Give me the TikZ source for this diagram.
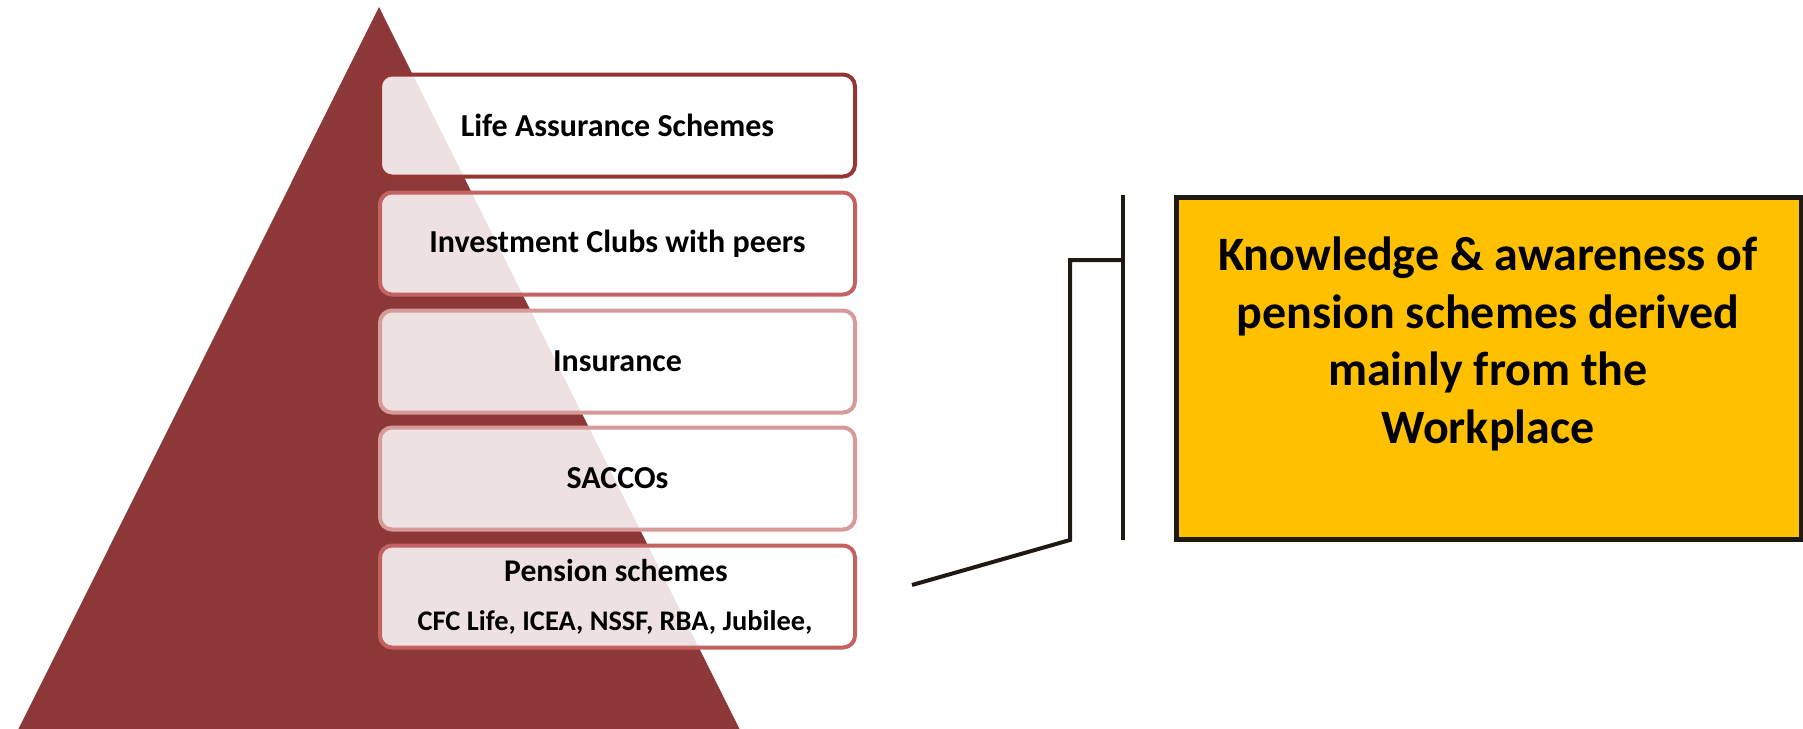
\documentclass[tikz,border=0pt]{standalone}
\usepackage{fontspec}
\setmainfont{Carlito}
\definecolor{pyr}{HTML}{8C3838}
\definecolor{tierA}{HTML}{943634}
\definecolor{tierB}{HTML}{C46262}
\definecolor{tierC}{HTML}{D69A98}
\definecolor{yel}{HTML}{FFC000}
\definecolor{lineblk}{HTML}{1E1A12}
\begin{document}
\begin{tikzpicture}[x=0.5pt,y=-0.5pt,
  tier/.style={draw, line width=2pt, rounded corners=6pt, fill=white, fill opacity=0.85, text opacity=1,
    minimum width=237.5pt, minimum height=51pt, inner sep=0pt, text=black,
    font=\bfseries\fontsize{16}{19}\selectfont},
  conn/.style={draw=lineblk, line width=2pt},
  lbl/.style={inner sep=0pt, text=black, font=\bfseries\fontsize{15.8}{19}\selectfont},
  sublbl/.style={inner sep=0pt, text=black, font=\bfseries\fontsize{14.2}{17}\selectfont},
]
\useasboundingbox (0,0) rectangle (1803,728);
\clip (0,0) rectangle (1803,728);
\fill[white] (0,0) rectangle (1803,728);
% pyramid
\fill[pyr] (379,7) -- (13,740) -- (745,740) -- cycle;
% tiers
\node[tier, draw=tierA] (t1) at (617.5,125.5) {Life Assurance Schemes};
\node[tier, draw=tierB] (t2) at (617.5,243.5) {Investment Clubs with peers};
\node[tier, draw=tierC] (t3) at (617.5,361.5) {Insurance};
\node[tier, draw=tierC] (t4) at (617.5,478.5) {SACCOs};
\node[tier, draw=tierB] (t5) at (617.5,596.5) {};
\node[lbl] (t5a) at (616,571) {Pension schemes};
\node[sublbl] (t5b) at (615,622) {CFC Life, ICEA, NSSF, RBA, Jubilee,};
% callout
\node[draw=lineblk, line width=2.5pt, fill=yel, minimum width=312.5pt, minimum height=171pt, inner sep=0pt] (kbox) at (1488.5,368) {};
\node[align=center, inner sep=0pt, text=black, font=\bfseries\fontsize{24}{28.75}\selectfont] (ktext) at (1488,344)
  {Knowledge \& awareness of\\pension schemes derived\\mainly from the\\Workplace};
\coordinate (c0) at (912,585);
\coordinate (c1) at (1070,540);
\coordinate (c2) at (1070,260);
\coordinate (c3) at (1123,260);
\coordinate (b1) at (1123,195);
\coordinate (b2) at (1123,540);
\draw[conn] (c0) -- (c1) -- (c2) -- (c3);
\draw[conn] (b1) -- (b2);
\end{tikzpicture}
\end{document}
